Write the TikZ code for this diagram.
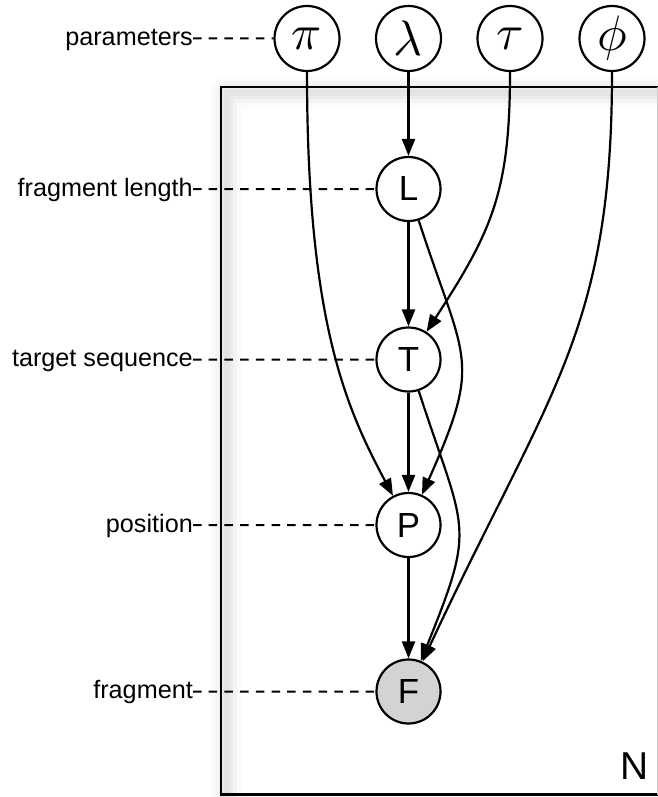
\documentclass[tikz,border=0pt]{standalone}
\usepackage{fontspec}
\setmainfont{Liberation Sans}
\usetikzlibrary{arrows.meta}
% scalable math italic for the large Greek letters
\DeclareFontFamily{OML}{cmm}{\skewchar\font'177}
\DeclareFontShape{OML}{cmm}{m}{it}{<->cmmi10}{}
\definecolor{obsfill}{RGB}{211,211,211}
\begin{document}
\begin{tikzpicture}[x=1bp,y=1bp,
  var/.style={circle, draw, line width=2.2bp, minimum size=64bp, inner sep=0pt,
    fill=white, font=\fontsize{35}{35}\selectfont},
  param/.style={var, minimum size=65bp, font=\fontsize{50}{50}\selectfont},
  obs/.style={var, fill=obsfill},
  lbl/.style={anchor=base east, inner sep=0pt, font=\fontsize{25.3}{25.3}\selectfont},
  guide/.style={line width=2bp, dash pattern=on 8.5bp off 7.2bp},
  edge/.style={line width=2.2bp, -{Triangle[length=17bp,width=13bp]}},
  platebox/.style={line width=2.2bp}
]
\useasboundingbox (0,0) rectangle (658,-797);

% plate with its soft inner shadow
\begin{scope}
  \clip (0,0) rectangle (658,-797);
  \foreach \w/\o in {30/0.02, 22/0.025, 14/0.03, 7/0.035} {
    \draw[line width=\w bp, black, opacity=\o, line join=round]
      (226,-800) -- (226,-92) -- (700,-92);
  }
  \draw[platebox] (221,-87) rectangle (700,-794.5);
  \draw[line width=1.2bp, black!20] (657.4,-87) -- (657.4,-794.5);
\end{scope}
\node[font=\fontsize{39}{39}\selectfont, inner sep=0pt] (plateN) at (635,-766) {N};

% parameters
\node[param] (pi)     at (307,-38.5) {$\pi$};
\node[param] (lambda) at (408.5,-38.5) {$\lambda$};
\node[param] (tau)    at (510,-38.5) {$\tau$};
\node[param] (phi)    at (612,-38.5) {$\phi$};

% variables
\node[var] (L) at (408.5,-189) {L};
\node[var] (T) at (408.5,-359.5) {T};
\node[var] (P) at (408.5,-525) {P};
\node[obs] (F) at (408.5,-691.5) {F};

% labels, baseline set 7bp below the guide line
\node[lbl] (lparams) at (193,-45.5) {parameters};
\node[lbl] (llen)    at (193,-196) {fragment length};
\node[lbl] (ltarget) at (193,-366.5) {target sequence};
\node[lbl] (lpos)    at (193,-532) {position};
\node[lbl] (lfrag)   at (193,-698.5) {fragment};

\draw[guide] ([yshift=7bp]lparams.base east) -- (pi.west);
\draw[guide] ([yshift=7bp]llen.base east) -- (L.west);
\draw[guide] ([yshift=7bp]ltarget.base east) -- (T.west);
\draw[guide] ([yshift=7bp]lpos.base east) -- (P.west);
\draw[guide] ([yshift=7bp]lfrag.base east) -- (F.west);

% dependencies
\draw[edge] (lambda) -- (L);
\draw[edge] (L) -- (T);
\draw[edge] (T) -- (P);
\draw[edge] (P) -- (F);
\draw[edge] (pi) to[out=-90, in=118, out distance=250bp, in distance=100bp] (P);
\draw[edge] (tau) to[out=-90, in=57, out distance=120bp, in distance=120bp] (T);
\draw[edge] (phi) to[out=-90, in=65, out distance=260bp, in distance=300bp] (F);
\draw[edge] (L) to[out=-72, in=66, out distance=150bp, in distance=150bp] (P);
\draw[edge] (T) to[out=-72, in=68, out distance=150bp, in distance=150bp] (F);
\end{tikzpicture}
\end{document}
